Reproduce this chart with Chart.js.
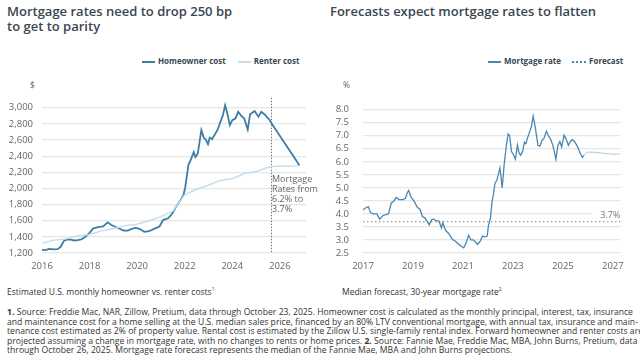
<!DOCTYPE html>
<html>
<head>
<meta charset="utf-8">
<script src="https://cdn.jsdelivr.net/npm/chart.js@4"></script>
<style>
  body { margin: 0; width: 640px; height: 363px; background: #fff; position: relative; overflow: hidden;
         font-family: "Open Sans", sans-serif; color: #3a4650; }
  .abs { position: absolute; }
  .title { font-size: 13px; font-weight: 600; line-height: 15px; color: #3a4650; }
  .legend { font-size: 8px; font-weight: 700; color: #3a4650; white-space: nowrap; }
  .legend span.sw { display: inline-block; width: 13px; height: 2px; vertical-align: middle; margin-right: 3px; }
  .legend span.dots { display: inline-block; width: 14px; border-top: 2px dotted #4a88b3; vertical-align: middle; margin-right: 3px; }
  .unit { font-size: 8.5px; color: #666; }
  .sub { font-size: 8.5px; color: #333; white-space: nowrap; }
  .note { font-size: 9px; color: #666; line-height: 10px; }
  .foot { left: 7px; top: 308px; font-size: 8.6px; line-height: 9.6px; color: #333; white-space: nowrap; }
  .foot span { display: inline-block; }
</style>
</head>
<body>

<div class="abs title" style="left:7px; top:4px;">Mortgage rates need to drop 250 bp<br>to get to parity</div>
<div class="abs title" style="left:330px; top:4px;">Forecasts expect mortgage rates to flatten</div>

<div class="abs legend" style="left:142px; top:55px;"><span class="sw" style="background:#3d7ea6"></span>Homeowner cost
  <span class="sw" style="background:#c6dcea; margin-left:10px"></span>Renter cost</div>
<div class="abs legend" style="left:488px; top:55px;"><span class="sw" style="background:#4a88b3"></span>Mortgage rate
  <span class="dots" style="margin-left:9px"></span>Forecast</div>

<div class="abs unit" style="left:30px; top:79px;">$</div>
<div class="abs unit" style="left:343px; top:79px;">%</div>

<div class="abs" style="left:6px; top:85px; width:302px; height:190px;"><canvas id="costChart"></canvas></div>
<div class="abs" style="left:327px; top:90px; width:305px; height:185px;"><canvas id="rateChart"></canvas></div>

<div class="abs note" style="left:272px; top:174px;">Mortgage<br>Rates from<br>6.2% to<br>3.7%</div>

<div class="abs sub" style="left:7px; top:286px;">Estimated U.S. monthly homeowner vs. renter costs<sup style="font-size:5px">1</sup></div>
<div class="abs sub" style="left:342px; top:286px;">Median forecast, 30-year mortgage rate<sup style="font-size:5px">2</sup></div>

<div class="abs foot" id="foot">
<span id="footFirst"><b>1.</b> Source: Freddie Mac, NAR, Zillow, Pretium, data through October 23, 2025. Homeowner cost is calculated as the monthly principal, interest, tax, insurance</span><br>
<span>and maintenance cost for a home selling at the U.S. median sales price, financed by an 80% LTV conventional mortgage, with annual tax, insurance and main-</span><br>
<span>tenance cost estimated as 2% of property value. Rental cost is estimated by the Zillow U.S. single-family rental index. Forward homeowner and renter costs are</span><br>
<span>projected assuming a change in mortgage rate, with no changes to rents or home prices. <b>2.</b> Source: Fannie Mae, Freddie Mac, MBA, John Burns, Pretium, data</span><br>
<span>through October 26, 2025. Mortgage rate forecast represents the median of the Fannie Mae, MBA and John Burns projections.</span>
</div>

<script>
// left chart: monthly costs ($)
const ownerYears = [2016.0, 2016.15, 2016.3, 2016.5, 2016.65, 2016.78, 2016.92, 2017.06, 2017.2, 2017.35, 2017.5, 2017.65, 2017.78, 2017.9,
  2018.0, 2018.14, 2018.35, 2018.57, 2018.76, 2018.9, 2019.05, 2019.2, 2019.43, 2019.6, 2019.8, 2019.95, 2020.1, 2020.3, 2020.5,
  2020.73, 2020.94, 2021.09, 2021.3, 2021.45, 2021.66, 2021.8, 2021.95, 2022.02, 2022.16, 2022.22, 2022.38, 2022.45, 2022.55,
  2022.7, 2022.8, 2022.88, 2022.98, 2023.05, 2023.15, 2023.38, 2023.5, 2023.6, 2023.7, 2023.8, 2023.9, 2024.0, 2024.13, 2024.25,
  2024.38, 2024.5, 2024.65, 2024.75, 2024.94, 2025.1, 2025.22, 2025.35, 2025.54, 2025.69, 2026.83];
const ownerCost = [1240, 1235, 1250, 1245, 1248, 1274, 1350, 1368, 1365, 1355, 1360, 1370, 1392, 1420,
  1450, 1502, 1520, 1529, 1580, 1550, 1529, 1510, 1478, 1478, 1502, 1510, 1500, 1462, 1470,
  1502, 1529, 1608, 1630, 1678, 1784, 1843, 1921, 2010, 2300, 2330, 2450, 2390, 2430,
  2725, 2630, 2610, 2550, 2630, 2610, 2725, 2825, 2900, 3030, 2920, 2785, 2845, 2865, 2950,
  2900, 2870, 2730, 2920, 2960, 2890, 2950, 2920, 2860, 2790, 2285];

const renterYears = [2016.0, 2016.5, 2017.0, 2017.5, 2018.0, 2018.5, 2019.0, 2019.5, 2020.0, 2020.5, 2021.0, 2021.5, 2022.0,
  2022.5, 2023.0, 2023.5, 2024.0, 2024.5, 2025.0, 2025.5, 2025.8, 2026.83];
const renterCost = [1320, 1360, 1375, 1410, 1430, 1475, 1500, 1540, 1556, 1600, 1650, 1720, 1920,
  1990, 2040, 2100, 2120, 2185, 2210, 2260, 2275, 2280];

const costYearTicks = [2016, 2018, 2020, 2022, 2024, 2026];
const dataThrough = 2025.65;

// right chart: 30-year mortgage rate (%)
const rateYears = [2017.0, 2017.08, 2017.21, 2017.3, 2017.42, 2017.55, 2017.67, 2017.8, 2017.92, 2018.02, 2018.13, 2018.22,
  2018.33, 2018.45, 2018.6, 2018.7, 2018.78, 2018.83, 2018.92, 2019.05, 2019.18, 2019.28, 2019.38, 2019.49, 2019.56, 2019.65,
  2019.75, 2019.83, 2019.94, 2020.04, 2020.14, 2020.19, 2020.31, 2020.44, 2020.57, 2020.7, 2020.83, 2020.95, 2021.03, 2021.12,
  2021.23, 2021.32, 2021.4, 2021.48, 2021.58, 2021.69, 2021.78, 2021.88, 2021.97, 2022.02, 2022.1, 2022.16, 2022.22, 2022.28,
  2022.36, 2022.48, 2022.52, 2022.57, 2022.65, 2022.74, 2022.81, 2022.87, 2022.94, 2023.03, 2023.1, 2023.18, 2023.24, 2023.31,
  2023.39, 2023.46, 2023.52, 2023.58, 2023.67, 2023.74, 2023.81, 2023.89, 2024.0, 2024.08, 2024.16, 2024.24, 2024.34, 2024.42,
  2024.5, 2024.6, 2024.72, 2024.8, 2024.88, 2024.95, 2025.05, 2025.14, 2025.22, 2025.3, 2025.38, 2025.46, 2025.56, 2025.64,
  2025.72, 2025.78, 2025.84];
const rateValues = [4.15, 4.22, 4.28, 4.05, 4.0, 4.0, 3.8, 3.94, 3.97, 4.0, 4.42, 4.48,
  4.63, 4.55, 4.55, 4.6, 4.83, 4.9, 4.65, 4.48, 4.24, 4.18, 3.9, 3.84, 3.72, 3.58,
  3.78, 3.8, 3.73, 3.72, 3.46, 3.66, 3.36, 3.24, 3.03, 2.95, 2.83, 2.75, 2.7, 2.87,
  3.18, 3.0, 3.0, 2.95, 2.83, 2.95, 3.15, 3.12, 3.15, 3.55, 3.84, 4.44, 4.75, 5.17,
  5.3, 5.76, 5.45, 5.0, 5.9, 6.65, 7.07, 7.0, 6.4, 6.25, 6.1, 6.65, 6.35, 6.25,
  6.4, 6.75, 6.7, 6.9, 7.16, 7.35, 7.75, 7.35, 6.63, 6.6, 6.82, 6.9, 7.17, 7.0,
  6.88, 6.63, 6.1, 6.63, 6.78, 6.57, 7.02, 6.85, 6.63, 6.78, 6.85, 6.78, 6.63, 6.45,
  6.27, 6.17, 6.25];

const forecastYears = [2025.84, 2025.97, 2026.2, 2026.5, 2026.8, 2027.03, 2027.28];
const forecastValues = [6.25, 6.37, 6.37, 6.34, 6.31, 6.29, 6.3];

const rateYearTicks = [2017, 2019, 2021, 2023, 2025, 2027];
const parityRate = 3.7;

const tickFont = { family: 'Open Sans', size: 9.5 };
const tickColor = '#666';
const gridColor = '#e6e6e6';

// stretch the footnote so its first line spans the page like the original
const foot = document.getElementById('foot');
const firstLine = document.getElementById('footFirst');
const firstText = firstLine.textContent;
const spread = (626 - firstLine.getBoundingClientRect().width) / firstText.length;
foot.style.letterSpacing = spread.toFixed(3) + 'px';

function xy(xs, ys) {
  return xs.map((x, i) => ({ x: x, y: ys[i] }));
}

const costMarks = {
  id: 'costMarks',
  beforeDatasetsDraw(chart) {
    const { ctx, chartArea, scales } = chart;
    const x = scales.x.getPixelForValue(dataThrough);
    ctx.save();
    ctx.strokeStyle = '#777';
    ctx.lineWidth = 1;
    ctx.setLineDash([1.5, 1.5]);
    ctx.beginPath();
    ctx.moveTo(x, chartArea.top - 2);
    ctx.lineTo(x, chartArea.bottom);
    ctx.stroke();
    ctx.restore();
  }
};

const rateMarks = {
  id: 'rateMarks',
  beforeDatasetsDraw(chart) {
    const { ctx, chartArea, scales } = chart;
    const y = scales.y.getPixelForValue(parityRate);
    ctx.save();
    // label with white box over the 4.0 gridline
    ctx.font = '9px "Open Sans"';
    const w = ctx.measureText('3.7%').width;
    ctx.fillStyle = '#fff';
    ctx.fillRect(chartArea.right - w - 8, y - 12, w + 8, 10);
    ctx.fillStyle = '#777';
    ctx.textAlign = 'right';
    ctx.textBaseline = 'bottom';
    ctx.fillText('3.7%', chartArea.right, y - 2);
    ctx.strokeStyle = '#888';
    ctx.lineWidth = 1.2;
    ctx.setLineDash([1.5, 2.5]);
    ctx.beginPath();
    ctx.moveTo(chartArea.left, y);
    ctx.lineTo(chartArea.right, y);
    ctx.stroke();
    ctx.restore();
  }
};

function yearAxis(min, max, ticks) {
  return {
    type: 'linear', min: min, max: max,
    afterBuildTicks: axis => { axis.ticks = ticks.map(v => ({ value: v })); },
    afterFit: axis => { axis.height = 22; },
    grid: { display: false, drawTicks: false },
    border: { display: false },
    ticks: { font: tickFont, color: tickColor, padding: 8, autoSkip: false, maxRotation: 0, callback: v => String(v) }
  };
}

new Chart(document.getElementById('costChart'), {
  type: 'line',
  data: {
    datasets: [
      { label: 'Renter cost', data: xy(renterYears, renterCost), borderColor: '#c6dcea', borderWidth: 1.4, pointRadius: 0 },
      { label: 'Homeowner cost', data: xy(ownerYears, ownerCost), borderColor: '#3d7ea6', borderWidth: 1.8, pointRadius: 0 }
    ]
  },
  options: {
    responsive: true, maintainAspectRatio: false, animation: false,
    layout: { padding: { top: 6.5, right: 2 } },
    plugins: { legend: { display: false }, tooltip: { enabled: false } },
    scales: {
      x: yearAxis(2016, 2027.1, costYearTicks),
      y: {
        min: 1200, max: 3100,
        ticks: { stepSize: 200, includeBounds: false, autoSkip: false, font: tickFont, color: tickColor, padding: 9 },
        afterFit: axis => { axis.width = 36; },
        grid: { color: gridColor, lineWidth: 1.2, drawTicks: false },
        border: { display: false }
      }
    }
  },
  plugins: [costMarks]
});

new Chart(document.getElementById('rateChart'), {
  type: 'line',
  data: {
    datasets: [
      { label: 'Forecast', data: xy(forecastYears, forecastValues), borderColor: '#a9c9de', borderWidth: 1, pointRadius: 0 },
      { label: 'Mortgage rate', data: xy(rateYears, rateValues), borderColor: '#4a88b3', borderWidth: 1.3, pointRadius: 0 }
    ]
  },
  options: {
    responsive: true, maintainAspectRatio: false, animation: false,
    layout: { padding: { top: 9, right: 9 } },
    plugins: { legend: { display: false }, tooltip: { enabled: false } },
    scales: {
      x: yearAxis(2017, 2027.3, rateYearTicks),
      y: {
        min: 2.5, max: 8.0,
        ticks: { stepSize: 0.5, autoSkip: false, font: tickFont, color: tickColor, padding: 14, callback: v => v.toFixed(1) },
        afterFit: axis => { axis.width = 36; },
        grid: { color: gridColor, lineWidth: 1.2, drawTicks: false },
        border: { display: false }
      }
    }
  },
  plugins: [rateMarks]
});
</script>
</body>
</html>
